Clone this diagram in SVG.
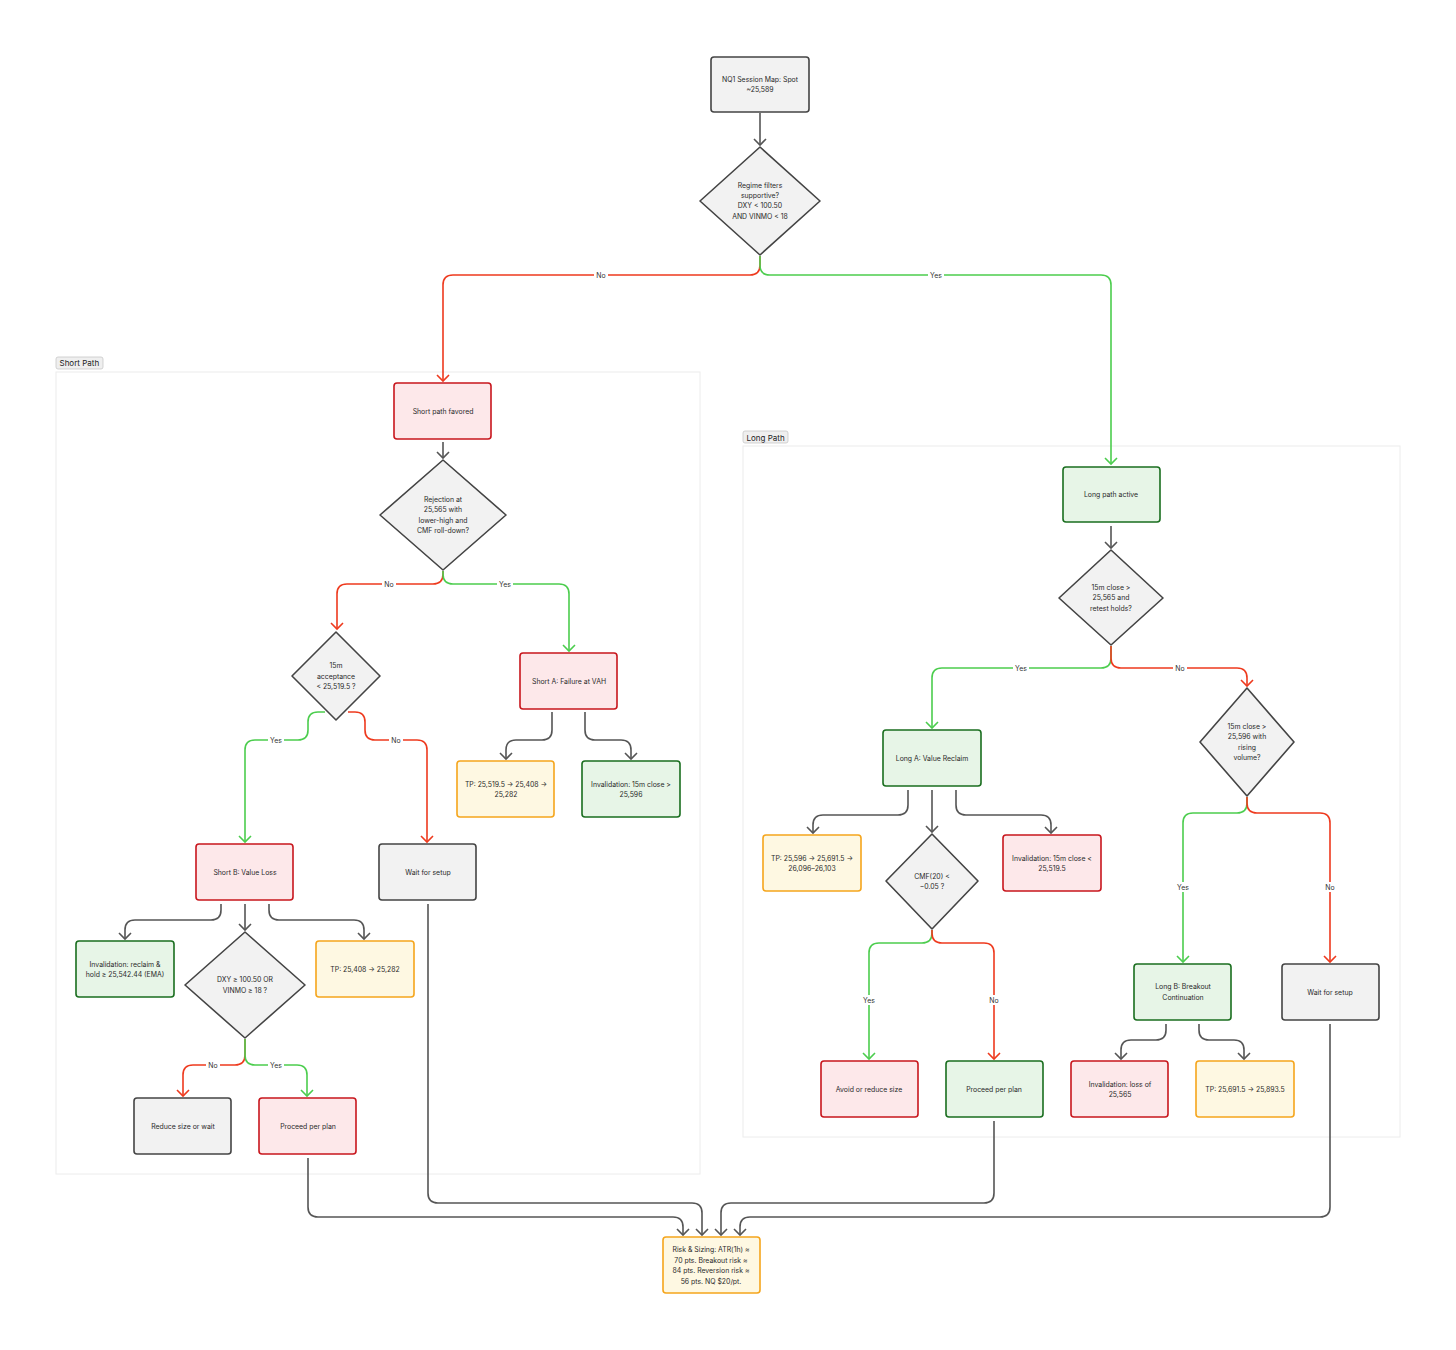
<svg xmlns="http://www.w3.org/2000/svg" width="1456" height="1350" viewBox="0 0 1456 1350">
<style>
text{font-family:Inter,"Liberation Sans",sans-serif;fill:#2a2a2a;}
.t{font-size:6.9px;text-anchor:middle;}
.lbl{font-size:6.9px;text-anchor:middle;fill:#333;}
.lb{fill:#fff;}
.gray{fill:#f2f2f2;stroke:#444;stroke-width:1.6;}
.red{fill:#fde8ea;stroke:#c8161d;stroke-width:1.6;}
.green{fill:#e7f5e7;stroke:#1a6e1f;stroke-width:1.6;}
.orange{fill:#fef8e2;stroke:#f5a51c;stroke-width:1.6;}
.grp{fill:#fff;stroke:#ececec;stroke-width:1;}
.tag{fill:#efefef;stroke:#c8c8c8;stroke-width:0.8;}
.tagt{font-size:8px;fill:#222;}
.e{fill:none;stroke-width:1.6;}
.eg{stroke:#555;marker-end:url(#ag);}
.er{stroke:#ee3a1e;marker-end:url(#ar);}
.egr{stroke:#4ccd4e;marker-end:url(#agr);}
</style>
<defs>
<marker id="ar" markerUnits="userSpaceOnUse" markerWidth="12" markerHeight="8" refX="6" refY="6" orient="0" viewBox="0 0 12 8" overflow="visible"><path d="M0,0 L6,6 L12,0" fill="none" stroke="#ee3a1e" stroke-width="1.6"/></marker>
<marker id="agr" markerUnits="userSpaceOnUse" markerWidth="12" markerHeight="8" refX="6" refY="6" orient="0" viewBox="0 0 12 8" overflow="visible"><path d="M0,0 L6,6 L12,0" fill="none" stroke="#4ccd4e" stroke-width="1.6"/></marker>
<marker id="ag" markerUnits="userSpaceOnUse" markerWidth="12" markerHeight="8" refX="6" refY="6" orient="0" viewBox="0 0 12 8" overflow="visible"><path d="M0,0 L6,6 L12,0" fill="none" stroke="#555" stroke-width="1.6"/></marker>
</defs>

<g id="group-short">
<rect class="grp" x="56" y="372" width="644" height="802"/>
<rect class="tag" x="56" y="357" width="47" height="12" rx="2"/>
<text class="tagt" x="59.5" y="366">Short Path</text>
</g>
<g id="group-long">
<rect class="grp" x="743" y="446" width="657" height="691"/>
<rect class="tag" x="743" y="431" width="45" height="12" rx="2"/>
<text class="tagt" x="746.5" y="440.5">Long Path</text>
</g>

<g id="connectors">
<path class="e eg" d="M760,113 L760,145"/>
<path class="e er" d="M760,256 L760,265 Q760,275 750,275 L453,275 Q443,275 443,285 L443,381"/>
<path class="e egr" d="M760,256 L760,265 Q760,275 770,275 L1101,275 Q1111,275 1111,285 L1111,464"/>
<path class="e eg" d="M443,442 L443,458"/>
<path class="e er" d="M443,571 L443,574 Q443,584 433,584 L347,584 Q337,584 337,594 L337,629"/>
<path class="e egr" d="M443,571 L443,574 Q443,584 453,584 L559,584 Q569,584 569,594 L569,651"/>
<path class="e egr" d="M325,712 L318,712 Q308,712 308,722 L308,730 Q308,740 298,740 L255,740 Q245,740 245,750 L245,842"/>
<path class="e er" d="M348,712 L355,712 Q365,712 365,722 L365,730 Q365,740 375,740 L417,740 Q427,740 427,750 L427,842"/>
<path class="e eg" d="M552,712 L552,730 Q552,740 542,740 L516,740 Q506,740 506,750 L506,759"/>
<path class="e eg" d="M585,712 L585,730 Q585,740 595,740 L621,740 Q631,740 631,750 L631,759"/>
<path class="e eg" d="M221,904 L221,910 Q221,920 211,920 L135,920 Q125,920 125,930 L125,939"/>
<path class="e eg" d="M245,904 L245,930"/>
<path class="e eg" d="M269,904 L269,910 Q269,920 279,920 L354,920 Q364,920 364,930 L364,939"/>
<path class="e er" d="M245,1039 L245,1055 Q245,1065 235,1065 L193,1065 Q183,1065 183,1075 L183,1096"/>
<path class="e egr" d="M245,1039 L245,1055 Q245,1065 255,1065 L297,1065 Q307,1065 307,1075 L307,1096"/>
<path class="e eg" d="M308,1158 L308,1207 Q308,1217 318,1217 L673,1217 Q683,1217 683,1227 L683,1235"/>
<path class="e eg" d="M428,904 L428,1193 Q428,1203 438,1203 L692,1203 Q702,1203 702,1213 L702,1235"/>
<path class="e eg" d="M994,1121 L994,1193 Q994,1203 984,1203 L731,1203 Q721,1203 721,1213 L721,1235"/>
<path class="e eg" d="M1330,1024 L1330,1207 Q1330,1217 1320,1217 L750,1217 Q740,1217 740,1227 L740,1235"/>
<path class="e eg" d="M1111,526 L1111,548"/>
<path class="e egr" d="M1111,646 L1111,658 Q1111,668 1101,668 L942,668 Q932,668 932,678 L932,728"/>
<path class="e er" d="M1111,646 L1111,658 Q1111,668 1121,668 L1237,668 Q1247,668 1247,678 L1247,686"/>
<path class="e eg" d="M908,790 L908,805 Q908,815 898,815 L823,815 Q813,815 813,825 L813,833"/>
<path class="e eg" d="M932,790 L932,832"/>
<path class="e eg" d="M956,790 L956,805 Q956,815 966,815 L1041,815 Q1051,815 1051,825 L1051,833"/>
<path class="e egr" d="M932,930 L932,933 Q932,943 922,943 L879,943 Q869,943 869,953 L869,1059"/>
<path class="e er" d="M932,930 L932,933 Q932,943 942,943 L984,943 Q994,943 994,953 L994,1059"/>
<path class="e egr" d="M1247,797 L1247,803 Q1247,813 1237,813 L1193,813 Q1183,813 1183,823 L1183,962"/>
<path class="e er" d="M1247,797 L1247,803 Q1247,813 1257,813 L1320,813 Q1330,813 1330,823 L1330,962"/>
<path class="e eg" d="M1166,1024 L1166,1030 Q1166,1040 1156,1040 L1131,1040 Q1121,1040 1121,1050 L1121,1059"/>
<path class="e eg" d="M1199,1024 L1199,1030 Q1199,1040 1209,1040 L1234,1040 Q1244,1040 1244,1050 L1244,1059"/>
<g id="edge-labels">
<rect class="lb" x="594" y="270" width="14" height="10"/><text class="lbl" x="601" y="277.5">No</text>
<rect class="lb" x="928" y="270" width="16" height="10"/><text class="lbl" x="936" y="277.5">Yes</text>
<rect class="lb" x="382" y="579" width="14" height="10"/><text class="lbl" x="389" y="586.5">No</text>
<rect class="lb" x="497" y="579" width="16" height="10"/><text class="lbl" x="505" y="586.5">Yes</text>
<rect class="lb" x="268" y="735" width="16" height="10"/><text class="lbl" x="276" y="742.5">Yes</text>
<rect class="lb" x="389" y="735" width="14" height="10"/><text class="lbl" x="396" y="742.5">No</text>
<rect class="lb" x="206" y="1060" width="14" height="10"/><text class="lbl" x="213" y="1067.5">No</text>
<rect class="lb" x="268" y="1060" width="16" height="10"/><text class="lbl" x="276" y="1067.5">Yes</text>
<rect class="lb" x="1013" y="663" width="16" height="10"/><text class="lbl" x="1021" y="670.5">Yes</text>
<rect class="lb" x="1173" y="663" width="14" height="10"/><text class="lbl" x="1180" y="670.5">No</text>
<rect class="lb" x="861" y="995" width="16" height="10"/><text class="lbl" x="869" y="1002.5">Yes</text>
<rect class="lb" x="987" y="995" width="14" height="10"/><text class="lbl" x="994" y="1002.5">No</text>
<rect class="lb" x="1175" y="882" width="16" height="10"/><text class="lbl" x="1183" y="889.5">Yes</text>
<rect class="lb" x="1323" y="882" width="14" height="10"/><text class="lbl" x="1330" y="889.5">No</text>
</g>
</g>

<g id="n-start"><rect class="gray" x="711" y="57" width="98" height="55" rx="3"/><text class="t" x="760" y="82">NQ1 Session Map: Spot</text><text class="t" x="760" y="92">~25,589</text></g>
<g id="n-regime"><path class="gray" d="M760,147 L820,201 L760,255 L700,201 Z" stroke-linejoin="round"/><text class="t" x="760" y="188">Regime filters</text><text class="t" x="760" y="198">supportive?</text><text class="t" x="760" y="208">DXY &lt; 100.50</text><text class="t" x="760" y="219">AND VINMO &lt; 18</text></g>

<g id="n-short-favored"><rect class="red" x="394" y="383" width="97" height="56" rx="3"/><text class="t" x="443" y="413.5">Short path favored</text></g>
<g id="n-rejection"><path class="gray" d="M443,460 L506,515 L443,570 L380,515 Z" stroke-linejoin="round"/><text class="t" x="443" y="501.5">Rejection at</text><text class="t" x="443" y="512">25,565 with</text><text class="t" x="443" y="522.5">lower-high and</text><text class="t" x="443" y="533">CMF roll-down?</text></g>
<g id="n-accept"><path class="gray" d="M336,632 L380,676 L336,720 L292,676 Z" stroke-linejoin="round"/><text class="t" x="336" y="668">15m</text><text class="t" x="336" y="678.5">acceptance</text><text class="t" x="336" y="689">&lt; 25,519.5 ?</text></g>
<g id="n-shortA"><rect class="red" x="520" y="653" width="97" height="56" rx="3"/><text class="t" x="569" y="683.5">Short A: Failure at VAH</text></g>
<g id="n-shortA-tp"><rect class="orange" x="457" y="761" width="97" height="56" rx="3"/><text class="t" x="506" y="786.5">TP: 25,519.5 → 25,408 →</text><text class="t" x="506" y="796.5">25,282</text></g>
<g id="n-shortA-inv"><rect class="green" x="582" y="761" width="98" height="56" rx="3"/><text class="t" x="631" y="786.5">Invalidation: 15m close &gt;</text><text class="t" x="631" y="796.5">25,596</text></g>
<g id="n-shortB"><rect class="red" x="196" y="844" width="97" height="56" rx="3"/><text class="t" x="245" y="874.5">Short B: Value Loss</text></g>
<g id="n-wait-short"><rect class="gray" x="379" y="844" width="97" height="56" rx="3"/><text class="t" x="428" y="874.5">Wait for setup</text></g>
<g id="n-shortB-inv"><rect class="green" x="76" y="941" width="98" height="56" rx="3"/><text class="t" x="125" y="967">Invalidation: reclaim &amp;</text><text class="t" x="125" y="977">hold ≥ 25,542.44 (EMA)</text></g>
<g id="n-dxy"><path class="gray" d="M245,932 L305,985 L245,1038 L185,985 Z" stroke-linejoin="round"/><text class="t" x="245" y="982">DXY ≥ 100.50 OR</text><text class="t" x="245" y="992.5">VINMO ≥ 18 ?</text></g>
<g id="n-shortB-tp"><rect class="orange" x="316" y="941" width="98" height="56" rx="3"/><text class="t" x="365" y="971.5">TP: 25,408 → 25,282</text></g>
<g id="n-reduce"><rect class="gray" x="134" y="1098" width="97" height="56" rx="3"/><text class="t" x="183" y="1128.5">Reduce size or wait</text></g>
<g id="n-proceed-short"><rect class="red" x="259" y="1098" width="97" height="56" rx="3"/><text class="t" x="308" y="1128.5">Proceed per plan</text></g>

<g id="n-long-active"><rect class="green" x="1063" y="467" width="97" height="55" rx="3"/><text class="t" x="1111" y="497">Long path active</text></g>
<g id="n-close"><path class="gray" d="M1111,550 L1163,598 L1111,645 L1059,598 Z" stroke-linejoin="round"/><text class="t" x="1111" y="589.5">15m close &gt;</text><text class="t" x="1111" y="600">25,565 and</text><text class="t" x="1111" y="610.5">retest holds?</text></g>
<g id="n-longA"><rect class="green" x="883" y="730" width="98" height="56" rx="3"/><text class="t" x="932" y="760.5">Long A: Value Reclaim</text></g>
<g id="n-longA-tp"><rect class="orange" x="763" y="835" width="98" height="56" rx="3"/><text class="t" x="812" y="860.5">TP: 25,596 → 25,691.5 →</text><text class="t" x="812" y="870.5">26,096–26,103</text></g>
<g id="n-cmf"><path class="gray" d="M932,834 L978,881 L932,929 L886,881 Z" stroke-linejoin="round"/><text class="t" x="932" y="878.5">CMF(20) &lt;</text><text class="t" x="932" y="889">−0.05 ?</text></g>
<g id="n-longA-inv"><rect class="red" x="1003" y="835" width="98" height="56" rx="3"/><text class="t" x="1052" y="860.5">Invalidation: 15m close &lt;</text><text class="t" x="1052" y="870.5">25,519.5</text></g>
<g id="n-avoid"><rect class="red" x="821" y="1061" width="97" height="56" rx="3"/><text class="t" x="869" y="1091.5">Avoid or reduce size</text></g>
<g id="n-proceed-long"><rect class="green" x="946" y="1061" width="97" height="56" rx="3"/><text class="t" x="994" y="1091.5">Proceed per plan</text></g>
<g id="n-rising"><path class="gray" d="M1247,688 L1294,742 L1247,796 L1200,742 Z" stroke-linejoin="round"/><text class="t" x="1247" y="728.5">15m close &gt;</text><text class="t" x="1247" y="739">25,596 with</text><text class="t" x="1247" y="749.5">rising</text><text class="t" x="1247" y="760">volume?</text></g>
<g id="n-longB"><rect class="green" x="1134" y="964" width="97" height="56" rx="3"/><text class="t" x="1183" y="989">Long B: Breakout</text><text class="t" x="1183" y="999.5">Continuation</text></g>
<g id="n-wait-long"><rect class="gray" x="1282" y="964" width="97" height="56" rx="3"/><text class="t" x="1330" y="994.5">Wait for setup</text></g>
<g id="n-longB-inv"><rect class="red" x="1071" y="1061" width="97" height="56" rx="3"/><text class="t" x="1120" y="1086.5">Invalidation: loss of</text><text class="t" x="1120" y="1097">25,565</text></g>
<g id="n-longB-tp"><rect class="orange" x="1196" y="1061" width="98" height="56" rx="3"/><text class="t" x="1245" y="1091.5">TP: 25,691.5 → 25,893.5</text></g>

<g id="n-risk"><rect class="orange" x="663" y="1237" width="97" height="56" rx="3"/><text class="t" x="711" y="1252">Risk &amp; Sizing: ATR(1h) ≈</text><text class="t" x="711" y="1262.5">70 pts. Breakout risk ≈</text><text class="t" x="711" y="1273">84 pts. Reversion risk ≈</text><text class="t" x="711" y="1283.5">56 pts. NQ $20/pt.</text></g>
</svg>
